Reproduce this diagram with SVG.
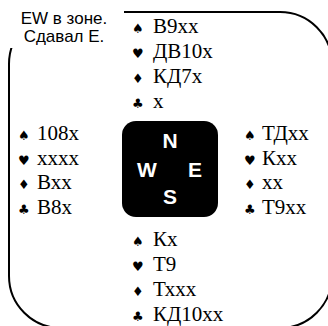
<svg xmlns="http://www.w3.org/2000/svg" width="328" height="326" viewBox="0 0 328 326">
<style>
.frame{fill:none;stroke:#000;stroke-width:2}
.lbl{font-family:"Liberation Sans",Arial,sans-serif;font-size:17px;fill:#000;text-anchor:middle}
.card{font-family:"Liberation Serif","Times New Roman",serif;font-size:21px;fill:#000}
.suit{font-family:"DejaVu Sans",sans-serif;font-size:13px;fill:#000}
.cmp{font-family:"Liberation Sans",Arial,sans-serif;font-size:21px;font-weight:bold;fill:#fff;text-anchor:middle}
</style>
<rect width="328" height="326" fill="#fff"/>
<g id="frame"><rect class="frame" x="9" y="12" width="323" height="316" rx="52"/></g>
<g id="label">
<rect x="0" y="0" width="124" height="48" fill="#fff"/>
<text class="lbl" x="64" y="24">EW в зоне.</text>
<text class="lbl" x="64" y="42">Сдавал Е.</text>
</g>
<g id="north">
<text class="suit" x="132" y="33">♠</text><text class="card" x="153" y="33">В9хх</text>
<text class="suit" x="132" y="58">♥</text><text class="card" x="153" y="58">ДВ10х</text>
<text class="suit" x="132" y="83">♦</text><text class="card" x="153" y="83">КД7х</text>
<text class="suit" x="132" y="108">♣</text><text class="card" x="153" y="108">х</text>
</g>
<g id="west">
<text class="suit" x="18" y="140">♠</text><text class="card" x="37" y="140">108х</text>
<text class="suit" x="18" y="164.5">♥</text><text class="card" x="37" y="164.5">хххх</text>
<text class="suit" x="18" y="189">♦</text><text class="card" x="37" y="189">Вхх</text>
<text class="suit" x="18" y="213.5">♣</text><text class="card" x="37" y="213.5">В8х</text>
</g>
<g id="east">
<text class="suit" x="244" y="140">♠</text><text class="card" x="262" y="140">ТДхх</text>
<text class="suit" x="244" y="164.5">♥</text><text class="card" x="262" y="164.5">Кхх</text>
<text class="suit" x="244" y="189">♦</text><text class="card" x="262" y="189">хх</text>
<text class="suit" x="244" y="213.5">♣</text><text class="card" x="262" y="213.5">Т9хх</text>
</g>
<g id="south">
<text class="suit" x="132" y="246">♠</text><text class="card" x="153" y="246">Кх</text>
<text class="suit" x="132" y="271">♥</text><text class="card" x="153" y="271">Т9</text>
<text class="suit" x="132" y="296">♦</text><text class="card" x="153" y="296">Тххх</text>
<text class="suit" x="132" y="321">♣</text><text class="card" x="153" y="321">КД10хх</text>
</g>
<g id="compass">
<rect x="122" y="121" width="96" height="96" rx="14" fill="#000"/>
<text class="cmp" x="170" y="148">N</text>
<text class="cmp" x="147" y="177">W</text>
<text class="cmp" x="195" y="177">E</text>
<text class="cmp" x="170" y="204">S</text>
</g>
</svg>
